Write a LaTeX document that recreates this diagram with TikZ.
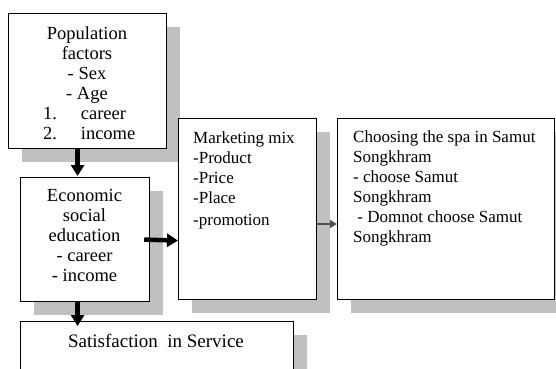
\documentclass[tikz,border=0pt]{standalone}
\usepackage{fontspec}
\setmainfont{Liberation Serif}
\usetikzlibrary{arrows.meta,shadows}
\definecolor{shadowgray}{RGB}{192,192,192}
\definecolor{arrowgray}{RGB}{80,80,80}
\tikzset{
  box/.style={draw=black,line width=1.2pt,fill=white,rectangle,inner sep=0pt,anchor=north west,
    drop shadow={shadow xshift=13pt,shadow yshift=-13pt,fill=shadowgray,opacity=1}},
  txt/.style={inner sep=0pt,font=\fontsize{17}{20}\selectfont},
  bigtxt/.style={inner sep=0pt,font=\fontsize{18.5}{20}\selectfont},
  thickarrow/.style={line width=4.5pt,-{Triangle[length=11pt,width=13pt]}},
  thinarrow/.style={draw=arrowgray,line width=1.5pt,-{Triangle[length=7pt,width=8pt]},arrowgray},
}
\begin{document}
\begin{tikzpicture}[x=1pt,y=-1pt]
\useasboundingbox[fill=white] (0,0) rectangle (556,368);
% boxes
\node[box,minimum width=158pt,minimum height=135pt] (pop) at (8,13) {};
\node[box,minimum width=129pt,minimum height=124pt] (econ) at (20,177) {};
\node[box,minimum width=138pt,minimum height=181pt] (mkt) at (178,118) {};
\node[box,minimum width=217pt,minimum height=181pt] (cho) at (337,118) {};
\node[box,minimum width=273pt,minimum height=70pt] (sat) at (20,321) {};
% texts
\node[bigtxt,align=center,anchor=north] (poptxt) at (87,26) {Population\\factors\\- Sex\\- Age\\
  \makebox[100pt][l]{\hspace{6pt}1.\hspace{24pt}career}\\
  \makebox[100pt][l]{\hspace{6pt}2.\hspace{24pt}income}};
\node[bigtxt,align=center,anchor=north] (econtxt) at (84.5,189) {Economic\\social\\education\\- career\\- income};
\node[txt,align=left,anchor=north west] (mkttxt) at (193,131) {Marketing mix\\-Product\\-Price\\-Place\\[2pt]-promotion};
\node[txt,align=left,anchor=north west] (chotxt) at (353,130) {Choosing the spa in Samut\\Songkhram\\- choose Samut\\Songkhram\\\ - Domnot choose Samut\\Songkhram};
\node[txt,anchor=north,font=\fontsize{19}{20}\selectfont] (sattxt) at (156,334) {Satisfaction\ \ in Service};
% arrows
\draw[thickarrow] ([xshift=-10pt]pop.south) -- ([xshift=-10pt,yshift=1pt]pop.south |- econ.north);
\draw[thickarrow] ([xshift=-6pt]econ.east) -- ([yshift=-1pt]mkt.west |- econ.east);
\draw[thinarrow] (mkt.east |- 0,224) -- (cho.west |- 0,224);
\draw[thickarrow] ([xshift=-7.5pt]econ.south) -- ([xshift=-7.5pt,yshift=-5pt]econ.south |- sat.north);
\end{tikzpicture}
\end{document}
